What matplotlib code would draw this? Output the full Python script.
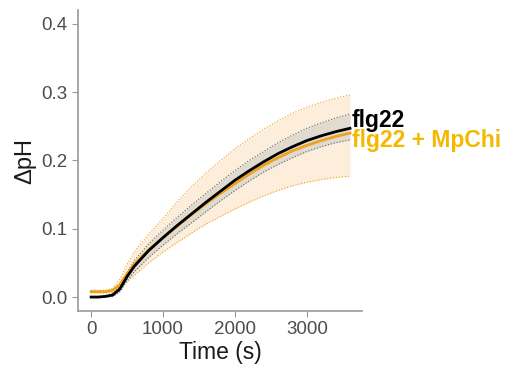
import matplotlib.pyplot as plt
import numpy as np

plt.rcParams['font.family'] = ['Liberation Sans', 'DejaVu Sans']

# time points (s)
time = [0, 100, 200, 300, 400, 500, 600, 800, 1000, 1200, 1400, 1600, 1800,
        2000, 2200, 2400, 2600, 2800, 3000, 3200, 3400, 3600]

# flg22 (black): mean and band
flg_mean = [0.000, 0.000, 0.001, 0.003, 0.012, 0.030, 0.045, 0.068, 0.087, 0.105, 0.122,
            0.139, 0.155, 0.171, 0.185, 0.198, 0.210, 0.220, 0.229, 0.236, 0.242, 0.247]
flg_hi = [0.001, 0.001, 0.002, 0.005, 0.016, 0.036, 0.053, 0.078, 0.098, 0.117, 0.135,
          0.152, 0.169, 0.185, 0.200, 0.213, 0.226, 0.237, 0.247, 0.255, 0.262, 0.268]
flg_lo = [0.000, 0.000, 0.000, 0.001, 0.008, 0.024, 0.037, 0.058, 0.076, 0.093, 0.109,
          0.125, 0.141, 0.156, 0.170, 0.183, 0.194, 0.204, 0.213, 0.220, 0.226, 0.230]

# flg22 + MpChi (orange): mean and band
mp_mean = [0.008, 0.008, 0.008, 0.010, 0.018, 0.034, 0.048, 0.069, 0.087, 0.104, 0.121,
           0.137, 0.152, 0.166, 0.180, 0.193, 0.204, 0.214, 0.222, 0.229, 0.235, 0.240]
mp_hi = [0.010, 0.010, 0.010, 0.013, 0.026, 0.048, 0.066, 0.092, 0.115, 0.140, 0.162,
         0.182, 0.200, 0.217, 0.232, 0.246, 0.258, 0.269, 0.278, 0.285, 0.291, 0.296]
mp_lo = [0.006, 0.006, 0.006, 0.007, 0.012, 0.022, 0.032, 0.050, 0.066, 0.080, 0.094,
         0.107, 0.118, 0.129, 0.139, 0.148, 0.156, 0.163, 0.168, 0.172, 0.175, 0.177]

orange = '#F0A21E'
fig = plt.figure(figsize=(5.11, 3.73), dpi=100)
ax = fig.add_axes([0.153, 0.166, 0.555, 0.807])

ax.fill_between(time, mp_lo, mp_hi, color='#FCEEDB', lw=0)
ax.fill_between(time, flg_lo, flg_hi, color='#DCD8CF', alpha=0.85, lw=0)
ax.plot(time, mp_hi, color=orange, lw=0.8, ls=':')
ax.plot(time, mp_lo, color=orange, lw=0.8, ls=':')
ax.plot(time, flg_hi, color='#666666', lw=0.8, ls=':')
ax.plot(time, flg_lo, color='#666666', lw=0.8, ls=':')
ax.plot(time, mp_mean, color=orange, lw=2)
ax.plot(time, flg_mean, color='black', lw=2)

ax.set_xlim(-180, 3764)
ax.set_ylim(-0.0205, 0.42)
ax.set_xticks([0, 1000, 2000, 3000])
ax.set_yticks([0.0, 0.1, 0.2, 0.3, 0.4])
ax.set_yticklabels(['0.0', '0.1', '0.2', '0.3', '0.4'])
for s in ['top', 'right']:
    ax.spines[s].set_visible(False)
for s in ['left', 'bottom']:
    ax.spines[s].set_color('#999999')
    ax.spines[s].set_linewidth(1.2)
ax.tick_params(colors='#999999', labelcolor='#4D4D4D', labelsize=13.5, length=4)
ax.set_xlabel('Time (s)', fontsize=16.5, color='#1a1a1a', labelpad=2)
ax.set_ylabel('ΔpH', fontsize=17, color='#1a1a1a', labelpad=4)

# end-of-line labels
fig.text(352 / 511, 1 - 120 / 373, 'flg22', fontsize=16.5, fontweight='bold',
         color='black', va='center', ha='left')
fig.text(352 / 511, 1 - 141 / 373, 'flg22 + MpChi', fontsize=16.5, fontweight='bold',
         color='#F5B800', va='center', ha='left')

fig.savefig('out.png', dpi=100)
